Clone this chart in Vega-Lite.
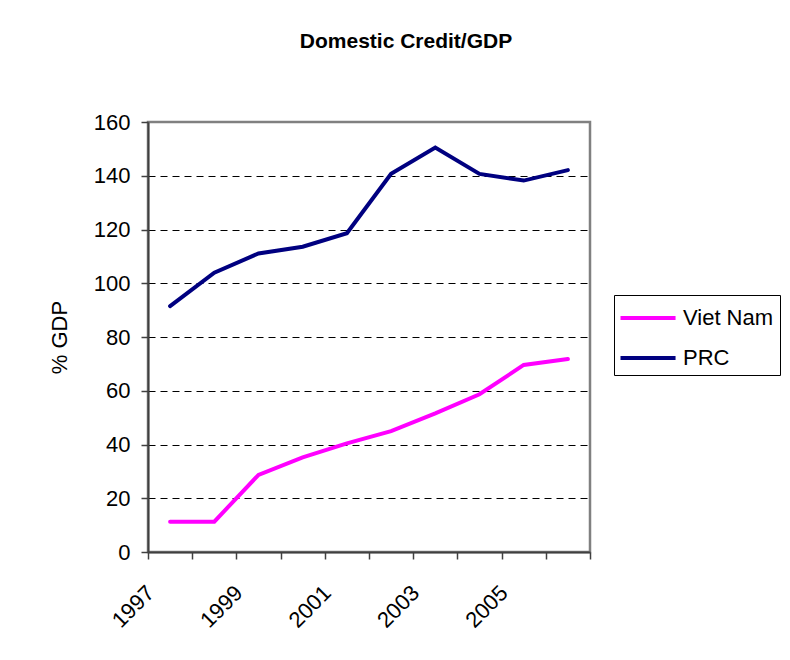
{
  "$schema": "https://vega.github.io/schema/vega-lite/v6.json",
  "width": 442,
  "height": 430,
  "autosize": {"type": "none"},
  "padding": {"left": 148, "top": 122, "right": 200, "bottom": 108},
  "background": "white",
  "config": {
    "font": "Liberation Sans",
    "view": {"stroke": "#808080", "strokeWidth": 2.5}
  },
  "title": {
    "text": "Domestic Credit/GDP",
    "font": "Liberation Sans",
    "fontSize": 21,
    "fontWeight": "bold",
    "color": "black",
    "anchor": "middle",
    "frame": "group",
    "baseline": "alphabetic",
    "offset": 42,
    "dx": 37
  },
  "data": {
    "values": [
      {"year": 1997, "country": "Viet Nam", "value": 11.3},
      {"year": 1998, "country": "Viet Nam", "value": 11.3},
      {"year": 1999, "country": "Viet Nam", "value": 28.7},
      {"year": 2000, "country": "Viet Nam", "value": 35.2},
      {"year": 2001, "country": "Viet Nam", "value": 40.4},
      {"year": 2002, "country": "Viet Nam", "value": 45.0},
      {"year": 2003, "country": "Viet Nam", "value": 51.6},
      {"year": 2004, "country": "Viet Nam", "value": 58.7},
      {"year": 2005, "country": "Viet Nam", "value": 69.6},
      {"year": 2006, "country": "Viet Nam", "value": 71.8},
      {"year": 1997, "country": "PRC", "value": 91.5},
      {"year": 1998, "country": "PRC", "value": 103.9},
      {"year": 1999, "country": "PRC", "value": 111.1},
      {"year": 2000, "country": "PRC", "value": 113.6},
      {"year": 2001, "country": "PRC", "value": 118.6},
      {"year": 2002, "country": "PRC", "value": 140.7},
      {"year": 2003, "country": "PRC", "value": 150.5},
      {"year": 2004, "country": "PRC", "value": 140.7},
      {"year": 2005, "country": "PRC", "value": 138.2},
      {"year": 2006, "country": "PRC", "value": 142.1}
    ]
  },
  "mark": {"type": "line", "strokeWidth": 4, "strokeCap": "round", "strokeJoin": "miter"},
  "encoding": {
    "x": {
      "field": "year",
      "type": "ordinal",
      "bandPosition": 0.5,
      "scale": {"type": "band", "paddingInner": 0, "paddingOuter": 0},
      "axis": {
        "title": null,
        "tickBand": "extent",
        "labelExpr": "datum.value % 2 == 1 ? datum.label : ''",
        "labelAngle": -45,
        "labelAlign": "right",
        "labelBaseline": "middle",
        "labelFontSize": 22,
        "labelColor": "black",
        "labelPadding": 30,
        "labelOffset": -20,
        "domainColor": "#404040",
        "domainWidth": 2,
        "tickColor": "#404040",
        "tickWidth": 1.5,
        "tickSize": 7,
        "grid": false
      }
    },
    "y": {
      "field": "value",
      "type": "quantitative",
      "scale": {"domain": [0, 160], "nice": false},
      "axis": {
        "title": "% GDP",
        "titleFontSize": 22,
        "titleFontWeight": "normal",
        "titleColor": "black",
        "titlePadding": 22,
        "values": [0, 20, 40, 60, 80, 100, 120, 140, 160],
        "labelFontSize": 22,
        "labelColor": "black",
        "labelPadding": 11,
        "domainColor": "#404040",
        "domainWidth": 2,
        "tickColor": "#404040",
        "tickWidth": 1.5,
        "tickSize": 7,
        "grid": true,
        "gridColor": "black",
        "gridWidth": 1,
        "gridDash": [7, 5],
        "gridOpacity": {"condition": {"test": "datum.value == 0 || datum.value == 160", "value": 0}, "value": 1}
      }
    },
    "color": {
      "field": "country",
      "type": "nominal",
      "scale": {"domain": ["Viet Nam", "PRC"], "range": ["#FF00FF", "#000080"]},
      "legend": {
        "title": null,
        "orient": "none",
        "legendX": 466,
        "legendY": 173,
        "strokeColor": "black",
        "fillColor": "white",
        "padding": 6,
        "symbolType": "M-1.1,0H2.57",
        "symbolStrokeWidth": 4,
        "symbolSize": 900,
        "labelFontSize": 22,
        "labelColor": "black",
        "labelOffset": 29,
        "rowPadding": 12
      }
    }
  }
}
